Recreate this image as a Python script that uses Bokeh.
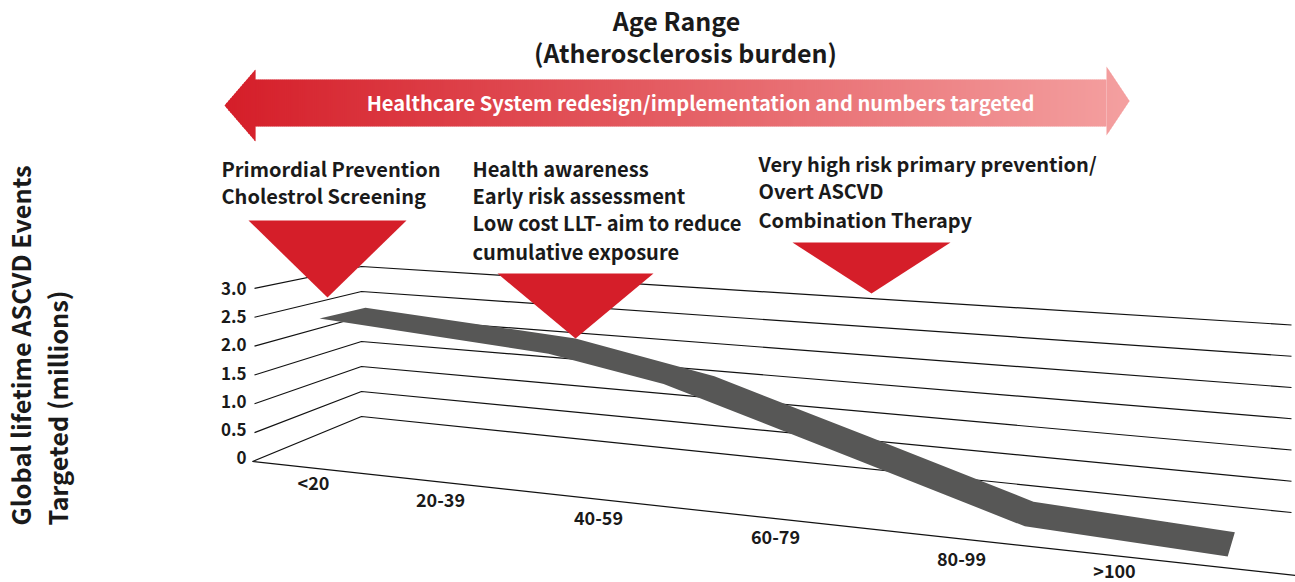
from math import pi
from bokeh.plotting import figure
from bokeh.embed import file_html
from bokeh.resources import INLINE
from bokeh.core.properties import value

# ---------- data ----------
age_groups = ["<20", "20-39", "40-59", "60-79", "80-99", ">100"]
tick_values = [0, 0.5, 1.0, 1.5, 2.0, 2.5, 3.0]
tick_labels = ["0", "0.5", "1.0", "1.5", "2.0", "2.5", "3.0"]
events_near_edge = [2.54, 2.27, 1.93, 1.00, 0.17, 0.04]
events_far_edge = [2.54, 2.28, 1.81, 1.01, 0.19, 0.04]

title_lines = ["Age Range", "(Atherosclerosis burden)"]
arrow_text = "Healthcare System redesign/implementation and numbers targeted"
note_1 = ["Primordial Prevention", "Cholestrol Screening"]
note_2 = ["Health awareness", "Early risk assessment", "Low cost LLT- aim to reduce", "cumulative exposure"]
note_3 = ["Very high risk primary prevention/", "Overt ASCVD", "Combination Therapy"]
y_title = ["Global lifetime ASCVD Events", "Targeted (millions)"]

# ---------- layout ----------
W, H = 1295, 582
FONT = value("Noto Sans CJK SC")
RED = "#D51E29"
DARK = "#575756"
NEAR_D, FAR_D = 0.3, 0.7
RIBBON_FLOOR = -0.15
T_NEAR = [0.034, 0.261, 0.375, 0.56, 0.733, 0.934]
T_FAR = [0.038, 0.256, 0.400, 0.56, 0.731, 0.940]
LABEL_XY = [(313, 483), (440, 501), (598, 519), (775, 538), (961, 560), (1114, 571)]


def project(t, d, v):
    """Oblique 3-D frame: t along age axis, d depth, v height."""
    fx, fy = 252 + 1043 * t, 461 + 114 * t
    bx, by = 361 + 930 * t, 416 + 96 * t
    h = (1 - d) * (57.7 + 8 * t) + d * (50 + 12.5 * t)
    return fx + (bx - fx) * d, fy + (by - fy) * d - v * h


p = figure(width=W, height=H, x_range=(0, W), y_range=(H, 0),
           toolbar_location=None, output_backend="svg", min_border=0,
           outline_line_color=None)
p.axis.visible = False
p.xgrid.visible = False
p.ygrid.visible = False

# gridlines and ticks
for v, lab in zip(tick_values, tick_labels):
    x0, y0 = project(0, 0, v)
    x1, y1 = project(0, 1, v)
    x2, y2 = project(1, 1, v)
    p.line([x0 + (2 if v else 0), x1, x2], [y0, y1, y2], line_color="#111111", line_width=1.2)
    p.text([246], [459 - 56.3 * v - 2], text=[lab], text_font=FONT, text_font_style="bold",
           text_font_size="17px", text_align="right", text_baseline="middle", text_color="#1a1a1a")

# front axis
ax0, ay0 = project(0, 0, 0)
ax1, ay1 = project(1, 0, 0)
p.line([ax0, ax1], [ay0, ay1], line_color="#111111", line_width=1.2)

# ribbon
far = [project(t, FAR_D, v + RIBBON_FLOOR) for t, v in zip(T_FAR, events_far_edge)]
near = [project(t, NEAR_D, v + RIBBON_FLOOR) for t, v in zip(T_NEAR, events_near_edge)]
poly = far + near[::-1]
p.patch([a for a, _ in poly], [b for _, b in poly], fill_color=DARK, line_color=None)

# category labels
for lab, (x, y) in zip(age_groups, LABEL_XY):
    p.text([x], [y - 2], text=[lab], text_font=FONT, text_font_style="bold", text_font_size="18px",
           text_align="center", text_baseline="middle", text_color="#1a1a1a")

# triangles
for (xl, xr, xt, yt, yb) in [(248, 406, 327, 220, 297), (497, 653, 575, 273, 338), (792, 950, 871, 242, 293)]:
    p.patch([xl, xr, xt], [yt, yt, yb], fill_color=RED, line_color=None)


# gradient double arrow, built from thin overlapping slices
def half_height(x):
    if x <= 255:
        f = (x - 224) / 31
        return 105 - 36 * f, 105 + 36 * f
    if x >= 1106:
        f = (1129 - x) / 23
        return 100.5 - 34.5 * f, 100.5 + 34.5 * f
    return 79, 126


c0 = (0xD5, 0x1E, 0x29)
c1 = (0xF4, 0xA0, 0xA0)


def colour(x):
    f = (x - 224) / 905
    return "#%02x%02x%02x" % tuple(round(c0[i] + (c1[i] - c0[i]) * f) for i in range(3))


xs, ys, cols = [], [], []
edges = [224 + 2.0 * i for i in range(453)]
edges = sorted(set([e for e in edges if e < 1129] + [255.0, 1106.0, 1129.0]))
for xa, nxt in zip(edges[:-1], edges[1:]):
    xb = min(nxt + 0.7, 1129) if nxt not in (255.0, 1106.0) else nxt
    ta, ba = half_height(xa)
    tb, bb = half_height(xb)
    left = xa
    if xa == 255.0:                # shaft starts slightly under the left head
        ta, ba = 79, 126
        left = 253.0
    if xa == 1106.0:
        ta, ba = 66, 135
    if xb == 255.0:
        tb, bb = 69, 141
    if xb == 1106.0:               # shaft runs slightly under the right head
        tb, bb = 79, 126
    xs.append([left, xb, xb, left])
    ys.append([ta, tb, bb, ba])
    cols.append(colour(xa))
# heads are painted after the shaft so no seam shows at their bases
order = [i for i, x in enumerate(xs) if 255 <= x[1] <= 1106 and x[0] >= 253] + \
        [i for i, x in enumerate(xs) if not (255 <= x[1] <= 1106 and x[0] >= 253)]
p.patches([xs[i] for i in order], [ys[i] for i in order],
          fill_color=[cols[i] for i in order], line_color=None)


def txt(x, y, s, size, color="#1a1a1a", align="left", angle=0):
    p.text([x], [y], text=[s], text_font=FONT, text_font_style="bold", text_font_size=size,
           text_align=align, text_baseline="middle", text_color=color, angle=angle)


txt(700, 102, arrow_text, "20.1px", "#ffffff", "center")
for s, x, y in zip(title_lines, [676, 685], [19, 51]):
    txt(x, y, s, "25px", align="center")
for s, y in zip(note_1, [168, 195]):
    txt(221, y, s, "20px")
for s, y in zip(note_2, [168, 195, 222, 251]):
    txt(472, y, s, "20.1px")
for s, y in zip(note_3, [163, 190, 219]):
    txt(758, y, s, "20px")
for s, x in zip(y_title, [19, 56]):
    txt(x, 525, s, "25.3px", angle=pi / 2)

open("out.html", "w").write(file_html(p, INLINE))
